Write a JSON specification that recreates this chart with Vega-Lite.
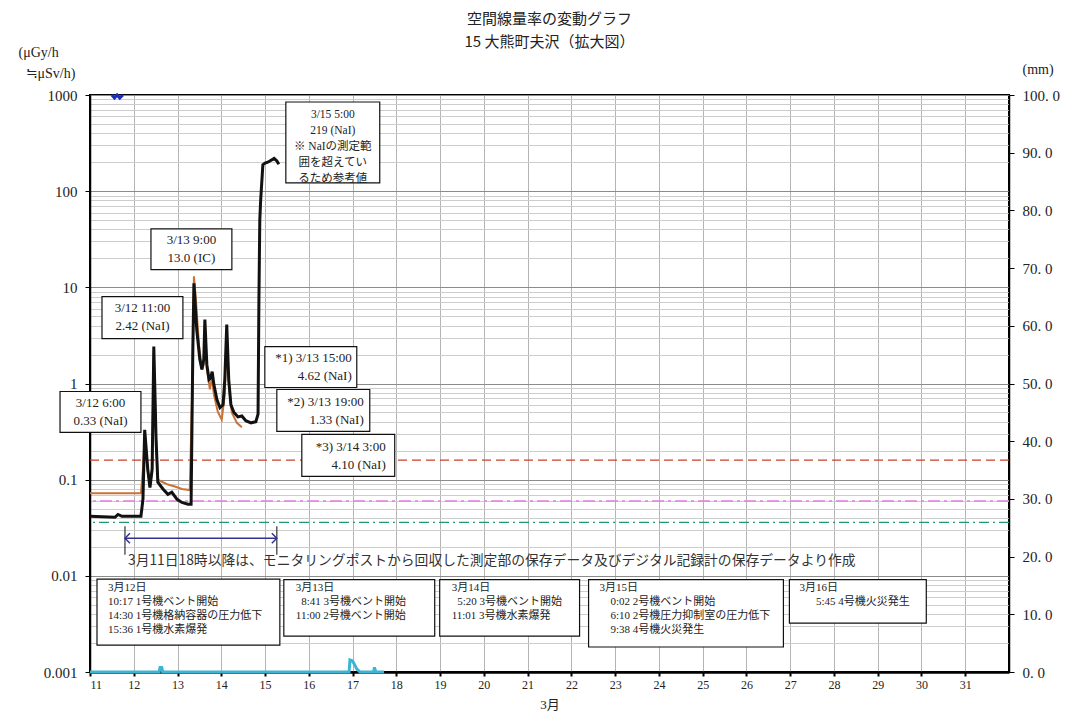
{
  "$schema": "https://vega.github.io/schema/vega-lite/v6.json",
  "width": 919,
  "height": 577,
  "autosize": {"type": "none"},
  "padding": {"left": 90, "top": 95, "right": 70, "bottom": 44},
  "background": "white",
  "config": {
    "font": "Liberation Serif, Noto Sans CJK JP",
    "view": {"stroke": "black", "strokeWidth": 2},
    "axis": {
      "labelFont": "Liberation Serif, Noto Sans CJK JP",
      "titleFont": "Liberation Serif, Noto Sans CJK JP",
      "titleFontWeight": "normal",
      "labelColor": "#222",
      "titleColor": "#222",
      "domainColor": "black",
      "tickColor": "black"
    }
  },
  "title": {
    "text": "空間線量率の変動グラフ",
    "subtitle": "15 大熊町夫沢（拡大図）",
    "anchor": "middle",
    "frame": "group",
    "font": "Noto Sans CJK JP",
    "fontSize": 15,
    "fontWeight": "normal",
    "color": "#222",
    "subtitleFont": "Noto Sans CJK JP",
    "subtitleFontSize": 15,
    "subtitleColor": "#222",
    "subtitlePadding": 8,
    "offset": -5
  },
  "datasets": {
    "ref": [
      {"v": 0.16, "kind": "a"},
      {"v": 0.06, "kind": "b"},
      {"v": 0.036, "kind": "c"}
    ],
    "ic": [
      {"d": 11.0, "v": 0.0721}, {"d": 12.164, "v": 0.0721}, {"d": 12.21, "v": 0.128}, {"d": 12.256, "v": 0.296},
      {"d": 12.32, "v": 0.122}, {"d": 12.37, "v": 0.085}, {"d": 12.42, "v": 0.134}, {"d": 12.458, "v": 2.15},
      {"d": 12.51, "v": 0.262}, {"d": 12.55, "v": 0.1}, {"d": 12.667, "v": 0.094}, {"d": 12.78, "v": 0.089},
      {"d": 12.94, "v": 0.085}, {"d": 13.1, "v": 0.08}, {"d": 13.28, "v": 0.078}, {"d": 13.33, "v": 0.68},
      {"d": 13.375, "v": 13.0}, {"d": 13.42, "v": 7.45}, {"d": 13.49, "v": 2.54}, {"d": 13.557, "v": 1.4},
      {"d": 13.6, "v": 1.57}, {"d": 13.625, "v": 4.1}, {"d": 13.67, "v": 1.4}, {"d": 13.74, "v": 0.87},
      {"d": 13.785, "v": 1.15}, {"d": 13.83, "v": 0.77}, {"d": 13.92, "v": 0.51}, {"d": 14.01, "v": 0.42},
      {"d": 14.08, "v": 0.77}, {"d": 14.125, "v": 3.6}, {"d": 14.17, "v": 0.98}, {"d": 14.24, "v": 0.5},
      {"d": 14.356, "v": 0.39}, {"d": 14.47, "v": 0.35}
    ],
    "nai": [
      {"d": 11.0, "v": 0.0416}, {"d": 11.571, "v": 0.0406}, {"d": 11.64, "v": 0.0435}, {"d": 11.73, "v": 0.0416},
      {"d": 12.164, "v": 0.0416}, {"d": 12.21, "v": 0.0625}, {"d": 12.25, "v": 0.33}, {"d": 12.32, "v": 0.128},
      {"d": 12.37, "v": 0.083}, {"d": 12.42, "v": 0.128}, {"d": 12.458, "v": 2.42}, {"d": 12.51, "v": 0.262},
      {"d": 12.55, "v": 0.094}, {"d": 12.667, "v": 0.08}, {"d": 12.78, "v": 0.0704}, {"d": 12.87, "v": 0.074},
      {"d": 12.99, "v": 0.0625}, {"d": 13.1, "v": 0.058}, {"d": 13.24, "v": 0.0555}, {"d": 13.31, "v": 0.0555},
      {"d": 13.35, "v": 2.25}, {"d": 13.375, "v": 11.0}, {"d": 13.44, "v": 3.6}, {"d": 13.51, "v": 1.78},
      {"d": 13.557, "v": 1.4}, {"d": 13.6, "v": 1.78}, {"d": 13.625, "v": 4.62}, {"d": 13.67, "v": 1.57},
      {"d": 13.72, "v": 1.1}, {"d": 13.76, "v": 1.15}, {"d": 13.792, "v": 1.33}, {"d": 13.83, "v": 0.98},
      {"d": 13.9, "v": 0.68}, {"d": 13.97, "v": 0.56}, {"d": 14.04, "v": 0.6}, {"d": 14.08, "v": 1.1},
      {"d": 14.125, "v": 4.1}, {"d": 14.17, "v": 1.1}, {"d": 14.22, "v": 0.6}, {"d": 14.29, "v": 0.5},
      {"d": 14.38, "v": 0.45}, {"d": 14.47, "v": 0.46}, {"d": 14.56, "v": 0.41}, {"d": 14.68, "v": 0.39},
      {"d": 14.79, "v": 0.4}, {"d": 14.84, "v": 0.48}, {"d": 14.86, "v": 7.45}, {"d": 14.88, "v": 50},
      {"d": 14.9, "v": 81}, {"d": 14.95, "v": 188}, {"d": 15.0, "v": 196}, {"d": 15.064, "v": 200},
      {"d": 15.208, "v": 219}, {"d": 15.27, "v": 206}, {"d": 15.315, "v": 190}
    ],
    "top": [
      {"d": 11.5, "v": 1000}, {"d": 11.56, "v": 930}, {"d": 11.62, "v": 1000}, {"d": 11.68, "v": 930}, {"d": 11.75, "v": 1000}
    ],
    "rain": [
      {"d": 11.0, "mm": 0}, {"d": 12.58, "mm": 0}, {"d": 12.6, "mm": 0.8}, {"d": 12.64, "mm": 0.8}, {"d": 12.66, "mm": 0},
      {"d": 16.92, "mm": 0}, {"d": 16.94, "mm": 2.1}, {"d": 17.0, "mm": 1.9}, {"d": 17.1, "mm": 0.5}, {"d": 17.17, "mm": 0},
      {"d": 17.48, "mm": 0}, {"d": 17.5, "mm": 0.8}, {"d": 17.53, "mm": 0}, {"d": 17.72, "mm": 0}
    ],
    "span": [
      {"d1": 11.799, "d2": 15.269, "v": 0.0246, "lo": 0.0166, "hi": 0.0328}
    ],
    "note": [
      {"d": 11.868, "v": 0.0141, "t": "3月11日18時以降は、モニタリングポストから回収した測定部の保存データ及びデジタル記録計の保存データより作成"}
    ],
    "notes": [
      {"k": "a", "x1": 15.475, "x2": 17.621, "y1": 846, "y2": 122, "tx": 16.548, "ty": 716, "lines": ["3/15 5:00", "219 (NaI)", "※ NaIの測定範", "囲を超えてい", "るため参考値"]},
      {"k": "c", "x1": 12.393, "x2": 14.242, "y1": 40.6, "y2": 15.26, "tx": 13.317, "ty": 36.0, "lines": ["3/13 9:00", "13.0 (IC)"]},
      {"k": "c", "x1": 11.274, "x2": 13.123, "y1": 8.0, "y2": 2.93, "tx": 12.199, "ty": 7.1, "lines": ["3/12 11:00", "2.42 (NaI)"]},
      {"k": "c", "x1": 10.315, "x2": 12.164, "y1": 0.826, "y2": 0.31, "tx": 11.24, "ty": 0.72, "lines": ["3/12 6:00", "0.33 (NaI)"]},
      {"k": "r", "x1": 14.995, "x2": 17.096, "y1": 2.42, "y2": 0.909, "tx": 16.982, "ty": 2.15, "lines": ["*1) 3/13 15:00", "4.62 (NaI)"]},
      {"k": "r", "x1": 15.269, "x2": 17.393, "y1": 0.866, "y2": 0.318, "tx": 17.256, "ty": 0.74, "lines": ["*2) 3/13 19:00", "1.33 (NaI)"]},
      {"k": "r", "x1": 15.84, "x2": 17.963, "y1": 0.2955, "y2": 0.1083, "tx": 17.758, "ty": 0.25, "lines": ["*3) 3/14 3:00", "4.10 (NaI)"]},
      {"k": "l", "x1": 11.16, "x2": 15.338, "y1": 0.00923, "y2": 0.001906, "tx": 11.411, "ty": 0.0086, "lines": ["3月12日", "10:17 1号機ベント開始", "14:30 1号機格納容器の圧力低下", "15:36 1号機水素爆発"]},
      {"k": "l", "x1": 15.429, "x2": 18.877, "y1": 0.00914, "y2": 0.002363, "tx": 15.703, "ty": 0.0086, "lines": ["3月13日", "\u200b\u20028:41 3号機ベント開始", "11:00 2号機ベント開始"]},
      {"k": "l", "x1": 18.991, "x2": 22.187, "y1": 0.00914, "y2": 0.002363, "tx": 19.265, "ty": 0.0086, "lines": ["3月14日", "\u200b\u20025:20 3号機ベント開始", "11:01 3号機水素爆発"]},
      {"k": "l", "x1": 22.393, "x2": 26.845, "y1": 0.00914, "y2": 0.00182, "tx": 22.644, "ty": 0.0086, "lines": ["3月15日", "\u200b\u20030:02 2号機ベント開始", "\u200b\u20036:10 2号機圧力抑制室の圧力低下", "\u200b\u20039:38 4号機火災発生"]},
      {"k": "l", "x1": 26.982, "x2": 30.11, "y1": 0.00914, "y2": 0.003226, "tx": 27.21, "ty": 0.0086, "lines": ["3月16日", "\u200b\u3000\u20025:45 4号機火災発生"]}
    ]
  },
  "layer": [
    {
      "layer": [
        {
          "data": {"name": "ref"},
          "mark": {"type": "rule", "strokeWidth": 1.3},
          "encoding": {
            "y": {
              "field": "v", "type": "quantitative",
              "scale": {"type": "log", "domain": [0.001, 1000], "nice": false},
              "axis": {
                "values": [0.001,0.002,0.003,0.004,0.005,0.006,0.007,0.008,0.009,0.01,0.02,0.03,0.04,0.05,0.06,0.07,0.08,0.09,0.1,0.2,0.3,0.4,0.5,0.6,0.7,0.8,0.9,1,2,3,4,5,6,7,8,9,10,20,30,40,50,60,70,80,90,100,200,300,400,500,600,700,800,900,1000],
                "grid": true,
                "gridColor": {"condition": {"test": "indexof([0.001,0.01,0.1,1,10,100,1000], datum.value) >= 0", "value": "#8c8c8c"}, "value": "#cdcdcd"},
                "gridWidth": 1,
                "tickSize": {"condition": {"test": "indexof([0.001,0.01,0.1,1,10,100,1000], datum.value) >= 0", "value": 5}, "value": 0},
                "labelExpr": "indexof([0.001,0.01,0.1,1,10,100,1000], datum.value) >= 0 ? '' + datum.value : ''",
                "labelFontSize": 15,
                "labelPadding": 8,
                "labelBound": false,
                "labelOverlap": false,
                "domainWidth": 1.5,
                "title": ["(μGy/h", "\u200b\u2002≒μSv/h)"],
                "titleAngle": 0,
                "titleAlign": "left",
                "titleBaseline": "top",
                "titleX": -72,
                "titleY": -50,
                "titleFontSize": 14,
                "titleLineHeight": 21
              }
            },
            "color": {"field": "kind", "type": "nominal", "scale": {"domain": ["a", "b", "c"], "range": ["#c8402e", "#e27ee2", "#1f9a6c"]}, "legend": null},
            "strokeDash": {"field": "kind", "type": "nominal", "scale": {"domain": ["a", "b", "c"], "range": [[9, 5], [12, 4, 3, 4], [10, 4, 2, 4]]}, "legend": null}
          }
        },
        {
          "data": {"name": "ic"},
          "mark": {"type": "line", "color": "#c8733a", "strokeWidth": 2},
          "encoding": {
            "x": {
              "field": "d", "type": "quantitative",
              "scale": {"domain": [11, 32], "nice": false, "zero": false},
              "axis": {
                "values": [11,11.5,12,12.5,13,13.5,14,14.5,15,15.5,16,16.5,17,17.5,18,18.5,19,19.5,20,20.5,21,21.5,22,22.5,23,23.5,24,24.5,25,25.5,26,26.5,27,27.5,28,28.5,29,29.5,30,30.5,31,31.5,32],
                "grid": true,
                "gridColor": "#b4b4b4",
                "labelExpr": "datum.value % 1 == 0 && datum.value < 32 ? '' + datum.value : ''",
                "tickSize": {"condition": {"test": "datum.value % 1 == 0 && datum.value < 32", "value": 4}, "value": 0},
                "tickWidth": 2,
                "labelFontSize": 12,
                "labelPadding": 3,
                "labelBound": false,
                "labelOverlap": false,
                "domainWidth": 2.5,
                "title": "3月",
                "titleFontSize": 13,
                "titlePadding": 8
              }
            },
            "y": {"field": "v", "type": "quantitative"}
          }
        },
        {
          "data": {"name": "nai"},
          "mark": {"type": "line", "color": "#111111", "strokeWidth": 3},
          "encoding": {
            "x": {"field": "d", "type": "quantitative"},
            "y": {"field": "v", "type": "quantitative"}
          }
        },
        {
          "data": {"name": "top"},
          "mark": {"type": "line", "color": "#1a2fb8", "strokeWidth": 3},
          "encoding": {
            "x": {"field": "d", "type": "quantitative"},
            "y": {"field": "v", "type": "quantitative"}
          }
        },
        {
          "data": {"name": "span"},
          "mark": {"type": "rule", "color": "#33338f", "strokeWidth": 1.5},
          "encoding": {
            "x": {"field": "d1", "type": "quantitative"},
            "x2": {"field": "d2"},
            "y": {"field": "v", "type": "quantitative"}
          }
        },
        {
          "data": {"name": "span"},
          "mark": {"type": "rule", "color": "#333333", "strokeWidth": 1.2},
          "encoding": {
            "x": {"field": "d1", "type": "quantitative"},
            "y": {"field": "lo", "type": "quantitative"},
            "y2": {"field": "hi"}
          }
        },
        {
          "data": {"name": "span"},
          "mark": {"type": "rule", "color": "#333333", "strokeWidth": 1.2},
          "encoding": {
            "x": {"field": "d2", "type": "quantitative"},
            "y": {"field": "lo", "type": "quantitative"},
            "y2": {"field": "hi"}
          }
        },
        {
          "data": {"name": "span"},
          "mark": {"type": "point", "shape": "M1,-1L0,0L1,1", "size": 100, "filled": false, "color": "#33338f", "strokeWidth": 1.5, "opacity": 1},
          "encoding": {
            "x": {"field": "d1", "type": "quantitative"},
            "y": {"field": "v", "type": "quantitative"}
          }
        },
        {
          "data": {"name": "span"},
          "mark": {"type": "point", "shape": "M-1,-1L0,0L-1,1", "size": 100, "filled": false, "color": "#33338f", "strokeWidth": 1.5, "opacity": 1},
          "encoding": {
            "x": {"field": "d2", "type": "quantitative"},
            "y": {"field": "v", "type": "quantitative"}
          }
        },
        {
          "data": {"name": "note"},
          "mark": {"type": "text", "align": "left", "baseline": "middle", "font": "Noto Sans CJK JP", "fontSize": 13.8, "color": "#333"},
          "encoding": {
            "x": {"field": "d", "type": "quantitative"},
            "y": {"field": "v", "type": "quantitative"},
            "text": {"field": "t", "type": "nominal"}
          }
        },
        {
          "data": {"name": "notes"},
          "mark": {"type": "rect", "fill": "white", "stroke": "#111", "strokeWidth": 1.2, "clip": false},
          "encoding": {
            "x": {"field": "x1", "type": "quantitative"},
            "x2": {"field": "x2"},
            "y": {"field": "y1", "type": "quantitative"},
            "y2": {"field": "y2"}
          }
        },
        {
          "data": {"name": "notes"},
          "transform": [{"filter": "datum.k == 'a'"}],
          "mark": {"type": "text", "align": "center", "baseline": "top", "fontSize": 11.5, "lineHeight": 16, "color": "#222"},
          "encoding": {
            "x": {"field": "tx", "type": "quantitative"},
            "y": {"field": "ty", "type": "quantitative"},
            "text": {"field": "lines", "type": "nominal"}
          }
        },
        {
          "data": {"name": "notes"},
          "transform": [{"filter": "datum.k == 'c'"}],
          "mark": {"type": "text", "align": "center", "baseline": "top", "fontSize": 13, "lineHeight": 18, "color": "#222", "clip": false},
          "encoding": {
            "x": {"field": "tx", "type": "quantitative"},
            "y": {"field": "ty", "type": "quantitative"},
            "text": {"field": "lines", "type": "nominal"}
          }
        },
        {
          "data": {"name": "notes"},
          "transform": [{"filter": "datum.k == 'r'"}],
          "mark": {"type": "text", "align": "right", "baseline": "top", "fontSize": 13, "lineHeight": 18, "color": "#222"},
          "encoding": {
            "x": {"field": "tx", "type": "quantitative"},
            "y": {"field": "ty", "type": "quantitative"},
            "text": {"field": "lines", "type": "nominal"}
          }
        },
        {
          "data": {"name": "notes"},
          "transform": [{"filter": "datum.k == 'l'"}],
          "mark": {"type": "text", "align": "left", "baseline": "top", "fontSize": 11, "lineHeight": 14, "color": "#222"},
          "encoding": {
            "x": {"field": "tx", "type": "quantitative"},
            "y": {"field": "ty", "type": "quantitative"},
            "text": {"field": "lines", "type": "nominal"}
          }
        }
      ]
    },
    {
      "data": {"name": "rain"},
      "mark": {"type": "line", "color": "#3db4d4", "strokeWidth": 3},
      "encoding": {
        "x": {"field": "d", "type": "quantitative"},
        "y": {
          "field": "mm", "type": "quantitative",
          "scale": {"domain": [0, 100], "nice": false, "zero": true},
          "axis": {
            "orient": "right",
            "values": [0,10,20,30,40,50,60,70,80,90,100],
            "grid": false,
            "labelExpr": "replace(format(datum.value, '.1f'), '.', '. ')",
            "labelFontSize": 15,
            "labelPadding": 8,
            "tickSize": 5,
            "labelBound": false,
            "labelOverlap": false,
            "domainWidth": 1.5,
            "title": "(mm)",
            "titleAngle": 0,
            "titleAlign": "left",
            "titleBaseline": "middle",
            "titleX": 13,
            "titleY": -26,
            "titleFontSize": 14
          }
        }
      }
    }
  ],
  "resolve": {"scale": {"y": "independent"}}
}
